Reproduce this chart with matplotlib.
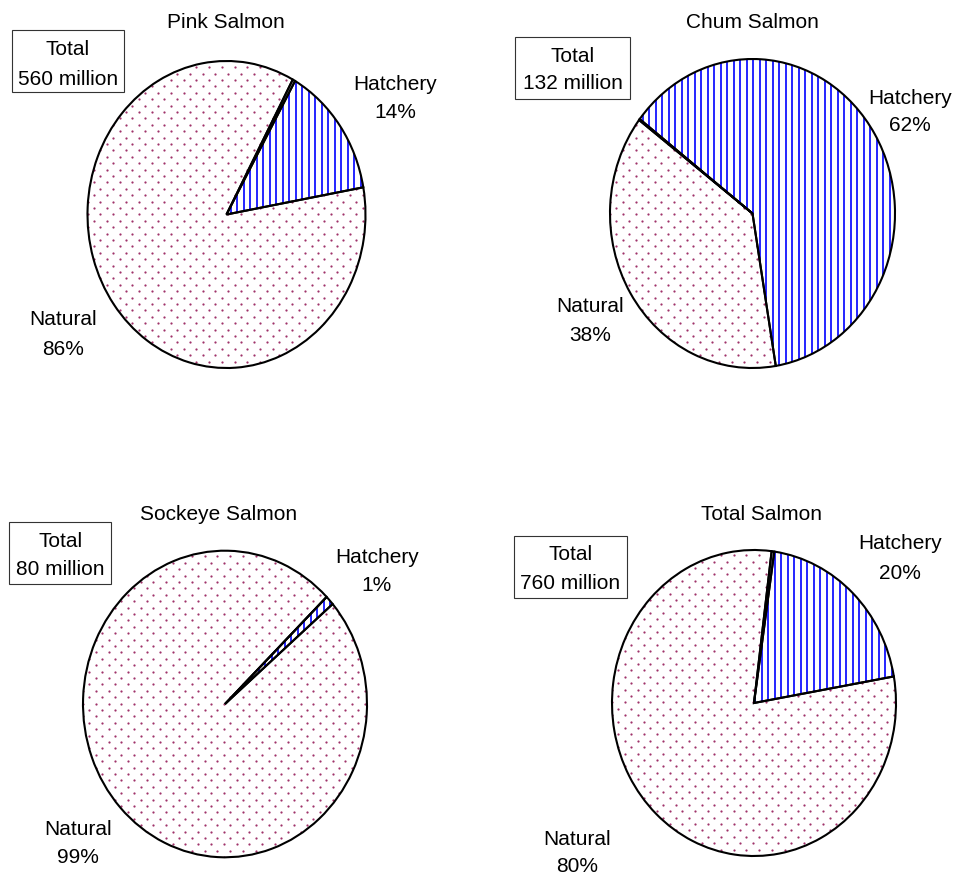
import numpy as np
import matplotlib.pyplot as plt
from matplotlib.patches import Rectangle

plt.rcParams['font.family'] = ['Liberation Sans', 'DejaVu Sans']

# data
titles = ['Pink Salmon', 'Chum Salmon', 'Sockeye Salmon', 'Total Salmon']
totals = ['560 million', '132 million', '80 million', '760 million']
hatchery = [14, 62, 1, 20]
natural = [86, 38, 99, 80]
sliver = [0.3, 0.12, 0.0, 0.3]   # thin unlabelled wedge next to hatchery

W, H = 967, 880
FS = 15

# layout in pixels (image coords, y down)
# c: pie centre, r: (rx, ry), start: start angle of hatchery slice
# box: (x0, x1, y0, y1), box_base: baselines of the two lines
layout = [
    dict(c=(226.5, 214.5), r=(139, 153.5), start=10.2, title=(226, 28),
         box=(11.7, 124.3, 30, 91.7), box_base=(55, 85),
         hat=(395, 90, 118), nat=(63, 325, 355)),
    dict(c=(752.5, 213.5), r=(142.5, 154.5), start=-80.6, title=(752, 28),
         box=(515, 630, 37.3, 99.3), box_base=(61.7, 89.3),
         hat=(910, 104, 131), nat=(590, 312, 341)),
    dict(c=(225, 704), r=(142, 153.3), start=40.7, title=(219, 520),
         box=(9.3, 111, 521.7, 584), box_base=(546.7, 575),
         hat=(376.7, 563.3, 591), nat=(78, 835, 863)),
    dict(c=(754, 703), r=(142, 153), start=10.0, title=(761.7, 520),
         box=(514, 627, 535.7, 597.7), box_base=(560, 589.3),
         hat=(899.7, 549.3, 579), nat=(577, 845, 872)),
]

fig = plt.figure(figsize=(W / 100, H / 100), dpi=100)


def ftext(x, y, s):
    fig.text(x / W, 1 - y / H, s, ha='center', va='baseline', fontsize=FS)


for i, L in enumerate(layout):
    cx, cy = L['c']
    rx, ry = L['r']
    ax = fig.add_axes([(cx - rx) / W, 1 - (cy + ry) / H, 2 * rx / W, 2 * ry / H])
    vals = [hatchery[i], sliver[i], natural[i]]
    wedges, _ = ax.pie(vals, startangle=L['start'], counterclock=True,
                       colors=['none'] * 3,
                       wedgeprops=dict(edgecolor='black', linewidth=1.5))
    ax.set_aspect('auto')
    ax.set_xlim(-1, 1)
    ax.set_ylim(-1, 1)
    ax.axis('off')
    for w in wedges:
        w.set_clip_on(False)
        w.set_zorder(3)

    # vertical blue lines for hatchery
    xs = np.arange(-rx, rx, 6.5) / rx
    lines = ax.vlines(xs, -1, 1, colors='#0000FF', linewidth=1.2, zorder=2)
    lines.set_clip_path(wedges[0])

    # staggered dots for natural
    px, py = [], []
    for k, yy in enumerate(np.arange(-ry, ry, 6.4)):
        off = 0 if k % 2 == 0 else 6.4
        row = np.arange(-rx + off, rx, 12.8)
        px.extend(row)
        py.extend([yy] * len(row))
    dots = ax.scatter(np.array(px) / rx, np.array(py) / ry, s=2.6,
                      color='#A0336A', linewidths=0, zorder=2)
    dots.set_clip_path(wedges[2])

    # texts
    ftext(L['title'][0], L['title'][1], titles[i])
    x0, x1, y0, y1 = L['box']
    fig.patches.append(Rectangle((x0 / W, 1 - y1 / H), (x1 - x0) / W, (y1 - y0) / H,
                                 transform=fig.transFigure, facecolor='white',
                                 edgecolor='#333333', linewidth=0.8))
    bx = (x0 + x1) / 2
    ftext(bx, L['box_base'][0], 'Total')
    ftext(bx, L['box_base'][1], totals[i])
    hx, hy1, hy2 = L['hat']
    ftext(hx, hy1, 'Hatchery')
    ftext(hx, hy2, f'{hatchery[i]}%')
    nx, ny1, ny2 = L['nat']
    ftext(nx, ny1, 'Natural')
    ftext(nx, ny2, f'{natural[i]}%')

fig.savefig('out.png', dpi=100)
